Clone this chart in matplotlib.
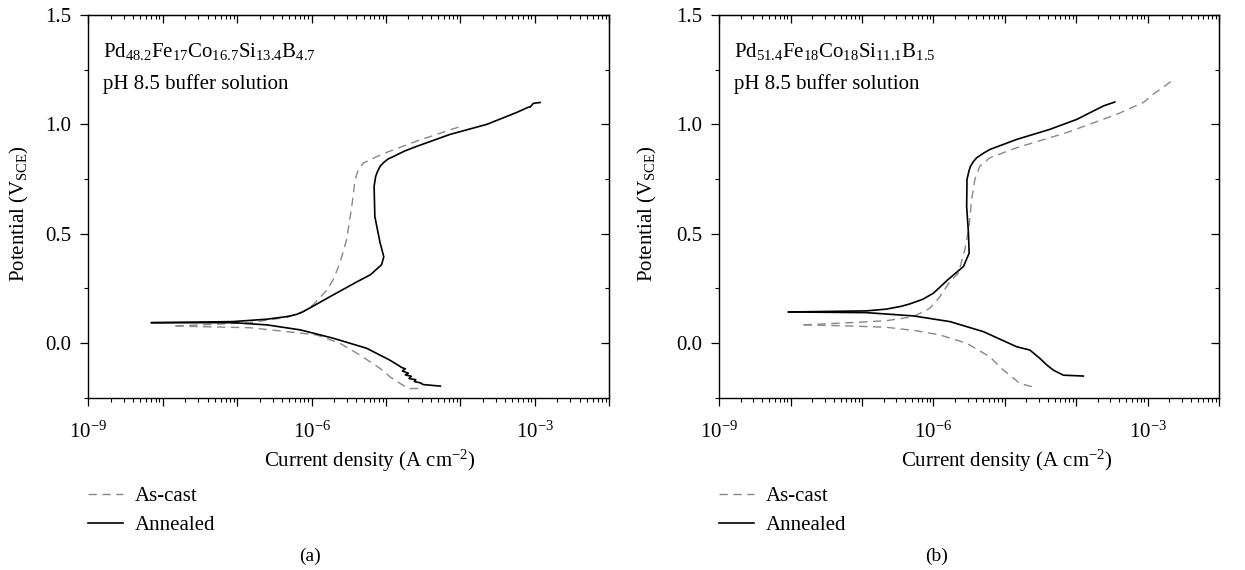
import numpy as np
import matplotlib
matplotlib.use("Agg")
import matplotlib.pyplot as plt
from matplotlib.ticker import LogLocator, FuncFormatter, MultipleLocator, NullFormatter

plt.rcParams['font.family'] = ['Liberation Serif', 'DejaVu Serif']
plt.rcParams['mathtext.fontset'] = 'custom'
plt.rcParams['mathtext.rm'] = 'Liberation Serif'
plt.rcParams['mathtext.it'] = 'Liberation Serif:italic'
plt.rcParams['mathtext.bf'] = 'Liberation Serif:bold'
plt.rcParams['axes.unicode_minus'] = True

# ---------------- data (log10 of current density, potential in V) ----------------
# Panel (a) Pd48.2Fe17Co16.7Si13.4B4.7
a_ann_anod_logi = [-8.15, -7.06, -6.60, -6.33, -6.20, -6.11, -5.92, -5.71, -5.39, -5.21,
                   -5.06, -5.03, -5.08, -5.15, -5.16, -5.14, -5.12, -5.08, -5.03, -4.97,
                   -4.90, -4.75, -4.59, -4.14, -3.645, -3.24, -3.09, -3.06, -3.02, -2.93]
a_ann_anod_v = [0.093, 0.098, 0.109, 0.121, 0.131, 0.144, 0.180, 0.220, 0.280, 0.312,
                0.358, 0.394, 0.459, 0.578, 0.716, 0.760, 0.780, 0.808, 0.826, 0.842,
                0.853, 0.878, 0.899, 0.954, 1.000, 1.055, 1.078, 1.080, 1.096, 1.100]
a_ann_cath_logi = [-8.15, -7.05, -6.60, -6.15, -5.71, -5.26, -4.95, -4.82, -4.79, -4.74,
                   -4.78, -4.70, -4.74, -4.66, -4.69, -4.60, -4.62, -4.54, -4.50, -4.27]
a_ann_cath_v = [0.093, 0.093, 0.083, 0.060, 0.022, -0.024, -0.078, -0.105, -0.112, -0.118,
                -0.128, -0.138, -0.146, -0.152, -0.162, -0.168, -0.176, -0.182, -0.190, -0.197]
a_cast_anod_logi = [-7.83, -6.83, -6.33, -6.15, -5.98, -5.80, -5.71, -5.62, -5.53, -5.46,
                    -5.415, -5.37, -5.30, -5.03, -4.59, -3.96]
a_cast_anod_v = [0.078, 0.093, 0.118, 0.136, 0.174, 0.240, 0.289, 0.366, 0.472, 0.625,
                 0.748, 0.794, 0.824, 0.867, 0.923, 0.995]
a_cast_cath_logi = [-7.83, -7.50, -6.83, -6.33, -5.93, -5.62, -5.35, -5.08, -4.945, -4.81,
                    -4.70, -4.54]
a_cast_cath_v = [0.078, 0.075, 0.070, 0.052, 0.037, -0.001, -0.055, -0.116, -0.155, -0.185,
                 -0.208, -0.208]

# Panel (b) Pd51.4Fe18Co18Si11.1B1.5
b_ann_anod_logi = [-8.03, -6.94, -6.66, -6.45, -6.33, -6.15, -6.00, -5.80, -5.58, -5.50,
                   -5.51, -5.535, -5.53, -5.50, -5.48, -5.44, -5.395, -5.30, -5.21, -4.835,
                   -4.37, -3.99, -3.76, -3.62, -3.46]
b_ann_anod_v = [0.142, 0.147, 0.155, 0.168, 0.179, 0.200, 0.228, 0.289, 0.350, 0.411,
                0.503, 0.625, 0.748, 0.790, 0.809, 0.830, 0.847, 0.868, 0.885, 0.931,
                0.977, 1.023, 1.061, 1.084, 1.102]
b_ann_cath_logi = [-8.03, -6.94, -6.28, -5.77, -5.30, -4.835, -4.65, -4.51, -4.41, -4.32,
                   -4.18, -3.90]
b_ann_cath_v = [0.142, 0.139, 0.124, 0.098, 0.052, -0.017, -0.032, -0.070, -0.101, -0.124,
                -0.147, -0.151]
b_cast_anod_logi = [-7.82, -7.17, -6.66, -6.28, -6.05, -5.91, -5.77, -5.65, -5.56, -5.50,
                    -5.465, -5.42, -5.35, -5.21, -4.835, -4.135, -3.43, -3.06, -2.92, -2.66]
b_cast_anod_v = [0.083, 0.093, 0.102, 0.121, 0.159, 0.212, 0.281, 0.320, 0.427, 0.534,
                 0.656, 0.748, 0.809, 0.847, 0.893, 0.962, 1.046, 1.100, 1.138, 1.199]
b_cast_cath_logi = [-7.82, -7.17, -6.66, -6.235, -5.91, -5.535, -5.21, -5.02, -4.93, -4.79,
                    -4.58]
b_cast_cath_v = [0.083, 0.078, 0.072, 0.056, 0.037, -0.001, -0.063, -0.124, -0.147, -0.185,
                 -0.203]

titles_comp = [r'Pd$_{48.2}$Fe$_{17}$Co$_{16.7}$Si$_{13.4}$B$_{4.7}$',
               r'Pd$_{51.4}$Fe$_{18}$Co$_{18}$Si$_{11.1}$B$_{1.5}$']
solution = 'pH 8.5 buffer solution'
panel_labels = ['(a)', '(b)']
xlabels_shown = [-9, -6, -3]

FS = 15
fig = plt.figure(figsize=(12.45, 5.70), dpi=100)
W, H = 1245.0, 570.0
ax_px = [(88.3, 521.0), (719.3, 499.7)]
top_px, bot_px = 15.0, 397.7

panels = [
    (a_cast_anod_logi, a_cast_anod_v, a_cast_cath_logi, a_cast_cath_v,
     a_ann_anod_logi, a_ann_anod_v, a_ann_cath_logi, a_ann_cath_v),
    (b_cast_anod_logi, b_cast_anod_v, b_cast_cath_logi, b_cast_cath_v,
     b_ann_anod_logi, b_ann_anod_v, b_ann_cath_logi, b_ann_cath_v),
]

gray = '#888888'
xlab_x = [0.541, 0.576]
ylab_x = [-0.110, -0.121]
panel_cx = [310, 937]

def fmt(v, pos):
    e = int(round(np.log10(v)))
    if e in xlabels_shown and abs(np.log10(v) - e) < 1e-6:
        return r'$10^{%d}$' % e
    return ''

for k, (l, w) in enumerate(ax_px):
    ax = fig.add_axes([l / W, (H - bot_px) / H, w / W, (bot_px - top_px) / H])
    ca_i, ca_v, cc_i, cc_v, aa_i, aa_v, ac_i, ac_v = panels[k]
    ax.plot(10 ** np.array(ca_i), ca_v, color=gray, lw=1.0, dashes=(6, 4), label='As-cast')
    ax.plot(10 ** np.array(cc_i), cc_v, color=gray, lw=1.0, dashes=(6, 4))
    ax.plot(10 ** np.array(aa_i), aa_v, color='black', lw=1.2, label='Annealed')
    ax.plot(10 ** np.array(ac_i), ac_v, color='black', lw=1.2)
    ax.set_xscale('log')
    ax.set_xlim(1e-9, 1e-2)
    ax.set_ylim(-0.25, 1.5)
    ax.xaxis.set_major_locator(LogLocator(base=10, numticks=20))
    ax.xaxis.set_minor_locator(LogLocator(base=10, subs=np.arange(2, 10), numticks=20))
    ax.xaxis.set_major_formatter(FuncFormatter(fmt))
    ax.xaxis.set_minor_formatter(NullFormatter())
    ax.yaxis.set_major_locator(MultipleLocator(0.5))
    ax.yaxis.set_minor_locator(MultipleLocator(0.25))
    ax.yaxis.set_major_formatter(FuncFormatter(lambda v, p: '%.1f' % v))
    ax.tick_params(which='major', direction='out', length=6, width=0.9, labelsize=FS, pad=6)
    ax.tick_params(which='minor', direction='out', length=3, width=0.8)
    ax.tick_params(axis='x', pad=11)
    for s in ax.spines.values():
        s.set_linewidth(1.0)
    sx = ax.secondary_xaxis('top')
    sx.set_xscale('log')
    sx.xaxis.set_major_locator(LogLocator(base=10, numticks=20))
    sx.xaxis.set_minor_locator(LogLocator(base=10, subs=np.arange(2, 10), numticks=20))
    sx.tick_params(which='major', direction='in', length=6, width=0.9, labeltop=False)
    sx.tick_params(which='minor', direction='in', length=3, width=0.8)
    sy = ax.secondary_yaxis('right')
    sy.yaxis.set_major_locator(MultipleLocator(0.5))
    sy.yaxis.set_minor_locator(MultipleLocator(0.25))
    sy.tick_params(which='major', direction='in', length=6, width=0.9, labelright=False)
    sy.tick_params(which='minor', direction='in', length=3, width=0.8)

    ax.set_xlabel(r'Current density (A cm$^{-2}$)', fontsize=FS)
    ax.xaxis.set_label_coords(xlab_x[k], -0.132)
    ax.set_ylabel(r'Potential (V$_{\rm SCE}$)', fontsize=FS)
    ax.yaxis.set_label_coords(ylab_x[k], 0.48)

    ax.text(0.029, 0.905, titles_comp[k], transform=ax.transAxes, fontsize=FS,
            va='center', ha='left')
    ax.text(0.029, 0.82, solution, transform=ax.transAxes, fontsize=FS,
            va='center', ha='left')

    ax.legend(loc='upper left', bbox_to_anchor=(0.0, -0.232), frameon=False,
              fontsize=FS, handlelength=1.65, handletextpad=0.6,
              labelspacing=0.45, borderpad=0, borderaxespad=0)

    fig.text(panel_cx[k] / W, 1 - 556 / H, panel_labels[k], fontsize=FS - 1,
             ha='center', va='center')

fig.savefig('out.png', dpi=100)
